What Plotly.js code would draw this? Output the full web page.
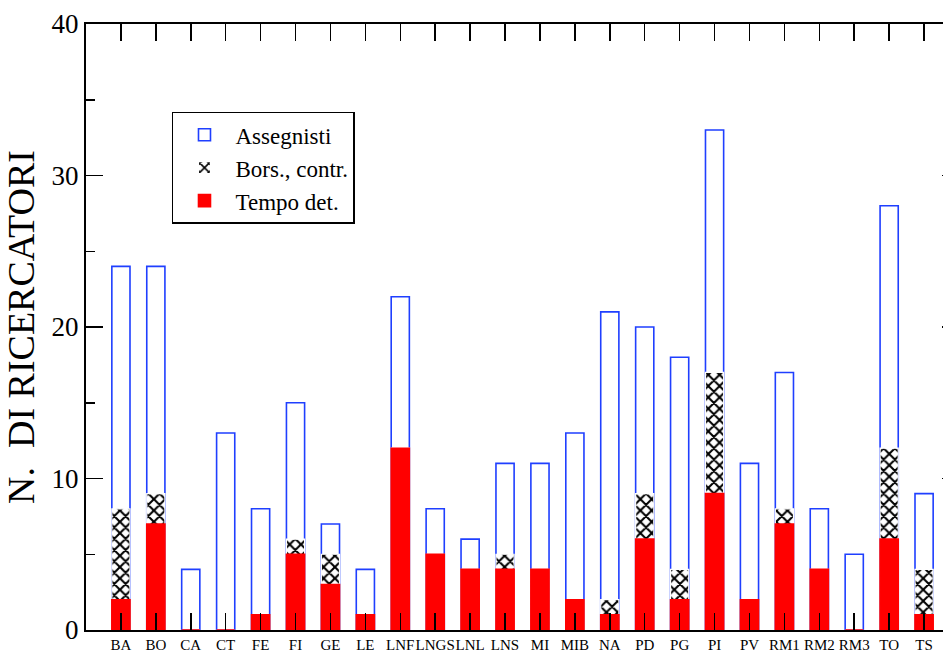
<!DOCTYPE html>
<html>
<head>
<meta charset="utf-8">
<script src="https://cdn.plot.ly/plotly-3.0.1.min.js"></script>
<style>
html, body { margin:0; padding:0; overflow:hidden; background:#fff; }
#chart { width:970px; height:652px; }
</style>
</head>
<body>
<div id="chart"></div>
<script>
var sedi = ["BA","BO","CA","CT","FE","FI","GE","LE","LNF","LNGS","LNL","LNS","MI","MIB","NA","PD","PG","PI","PV","RM1","RM2","RM3","TO","TS"];
var tempoDet   = [2,7,0,0,1,5,3,1,12,5,4,4,4,2,1,6,2,9,2,7,4,0,6,1];
var borsContr  = [6,2,0,0,0,1,2,0,0,0,0,1,0,0,1,3,2,8,0,1,0,0,6,3];
var assegnisti = [16,15,4,13,7,9,2,3,10,3,2,6,7,11,19,11,14,16,9,9,4,5,16,5];
var yTicks = [0,10,20,30,40];

// cumulative heights (bars are overlaid, like the original)
var cumBors = tempoDet.map(function(v,i){ return v + borsContr[i]; });
var cumTot  = cumBors.map(function(v,i){ return v + assegnisti[i]; });

var serif = "Liberation Serif";
var w = 0.52;

var traces = [
  { type:'bar', x:sedi, y:cumTot, name:'Assegnisti', width:w,
    marker:{ color:'#ffffff', line:{ color:'#1f3fff', width:1.6 } } },
  { type:'bar', x:sedi, y:cumBors, name:'Bors., contr.', width:w,
    marker:{ color:'#ffffff', line:{ color:'#ffffff', width:1.2 },
      pattern:{ shape:'x', fgcolor:'#000000', bgcolor:'#ffffff', size:8, solidity:0.45 } } },
  { type:'bar', x:sedi, y:tempoDet, name:'Tempo det.', width:w,
    marker:{ color:'#ff0000', line:{ color:'#ff0000', width:1.6 } } }
];

var layout = {
  width:970, height:652,
  margin:{ l:86, r:11, t:24, b:22 },
  barmode:'overlay',
  paper_bgcolor:'#ffffff', plot_bgcolor:'#ffffff',
  font:{ family:serif, color:'#000' },
  showlegend:true,
  legend:{ x:0.0985, y:0.855, xanchor:'left', yanchor:'top',
    bordercolor:'#000', borderwidth:1.5, bgcolor:'#fff',
    font:{ family:serif, size:23, color:'#000' }, tracegroupgap:0, itemwidth:52 },
  xaxis:{ type:'category', range:[-1,24], showgrid:false, zeroline:false,
    showline:true, linecolor:'#000', linewidth:2, mirror:'allticks',
    ticks:'inside', ticklen:17, tickwidth:1.5, tickcolor:'#000', tickangle:0,
    tickfont:{ family:serif, size:15, color:'#000' } },
  yaxis:{ range:[0,40], showgrid:false, zeroline:false,
    showline:true, linecolor:'#000', linewidth:2, mirror:'allticks',
    tickmode:'array', tickvals:yTicks, ticktext:yTicks.map(String),
    ticks:'inside', ticklen:17, tickwidth:1.5, tickcolor:'#000',
    minor:{ dtick:5, ticks:'inside', ticklen:9, tickwidth:1.5, tickcolor:'#000', showgrid:false },
    tickfont:{ family:serif, size:27, color:'#000' },
    title:{ text:'N.  DI RICERCATORI', font:{ family:serif, size:38, color:'#000' }, standoff:8 } }
};

Plotly.newPlot('chart', traces, layout, { displayModeBar:false, staticPlot:true });
</script>
</body>
</html>
